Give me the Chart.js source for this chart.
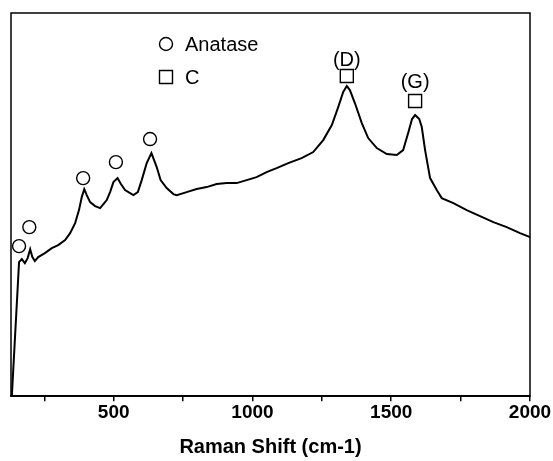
<!DOCTYPE html>
<html>
<head>
<meta charset="utf-8">
<script src="https://cdn.jsdelivr.net/npm/chart.js@4.4.0/dist/chart.umd.min.js"></script>
<style>
  body { margin: 0; background: #fff; }
  #wrap { width: 553px; height: 461px; position: relative; }
</style>
</head>
<body>
<div id="wrap"><canvas id="grafico"></canvas></div>
<script>
// spectrum: Raman shift (cm-1) and intensity (a.u.)
const shift = [133, 159, 169, 180, 190, 199, 207, 216, 228, 252, 277, 300, 325, 343, 361, 375, 385, 394, 403, 415,
  433, 451, 463, 475, 487, 499, 514, 526, 541, 559, 571, 587, 601, 619, 636, 655, 669, 691, 715, 727,
  763, 799, 835, 871, 907, 943, 979, 1015, 1051, 1087, 1129, 1177, 1219, 1255, 1286, 1309, 1327, 1340, 1351, 1369,
  1394, 1417, 1448, 1484, 1520, 1543, 1561, 1575, 1586, 1601, 1610, 1622, 1640, 1664, 1682, 1724, 1772, 1820, 1868, 1916,
  1964, 2000];
const intensity = [0, 134, 137, 133, 138, 147, 139, 135, 139, 143, 148, 151, 156, 163, 173, 186, 199, 207, 201, 194,
  190, 188, 192, 196, 204, 214, 218, 212, 206, 203, 201, 204, 216, 233, 243, 229, 216, 208, 202, 201,
  204, 207, 209, 212, 213, 213, 216, 219, 224, 228, 233, 238, 244, 256, 271, 289, 304, 310, 306, 293,
  273, 258, 248, 242, 241, 246, 263, 277, 281, 277, 269, 246, 218, 206, 198, 193, 186, 180, 174, 169,
  163, 159];

// peak markers
const anataseX = [159, 196, 390, 508, 631];
const anataseY = [150, 169, 218, 234, 257];
const carbonX = [1340, 1586];
const carbonY = [320, 295];
const carbonLabels = ['(D)', '(G)'];
const carbonLabelY = [336, 314];

// eixo x
const xTicks = [250, 500, 750, 1000, 1250, 1500, 1750, 2000];
const xMin = 130, xMax = 2000;
const yMin = 0, yMax = 383;

const legendItems = [
  { label: 'Anatase', style: 'circle' },
  { label: 'C', style: 'rect' }
];

const serie = shift.map((x, i) => ({ x: x, y: intensity[i] }));
const circulos = anataseX.map((x, i) => ({ x: x, y: anataseY[i] }));
const quadrados = carbonX.map((x, i) => ({ x: x, y: carbonY[i] }));

const fonte = '"Liberation Sans", Arial, sans-serif';

const extras = {
  id: 'extras',
  afterDatasetsDraw(chart) {
    const { ctx, chartArea, scales } = chart;
    ctx.save();
    // moldura
    ctx.strokeStyle = '#000';
    ctx.lineWidth = 1.5;
    ctx.strokeRect(chartArea.left, chartArea.top, chartArea.right - chartArea.left, chartArea.bottom - chartArea.top);

    // rótulos D e G
    ctx.fillStyle = '#000';
    ctx.font = '20px ' + fonte;
    ctx.textAlign = 'center';
    ctx.textBaseline = 'middle';
    carbonLabels.forEach((t, i) => {
      ctx.fillText(t, scales.x.getPixelForValue(carbonX[i]), scales.y.getPixelForValue(carbonLabelY[i]));
    });

    // legenda dentro do gráfico
    const lx = chartArea.left + 155, ly = chartArea.top + 31;
    ctx.textAlign = 'left';
    ctx.lineWidth = 1.4;
    legendItems.forEach((item, i) => {
      const y = ly + i * 33;
      ctx.beginPath();
      if (item.style === 'circle') ctx.arc(lx, y, 6.5, 0, Math.PI * 2);
      else ctx.rect(lx - 6.5, y - 6.5, 13, 13);
      ctx.stroke();
      ctx.fillText(item.label, lx + 19, y + 1);
    });
    ctx.restore();
  }
};

new Chart(document.getElementById('grafico'), {
  type: 'line',
  data: {
    datasets: [
      { data: serie, borderColor: '#000', borderWidth: 2, pointRadius: 0, tension: 0, fill: false },
      { type: 'scatter', data: circulos, pointStyle: 'circle', pointRadius: 6.5, pointBorderWidth: 1.4,
        pointBorderColor: '#000', pointBackgroundColor: 'rgba(0,0,0,0)' },
      { type: 'scatter', data: quadrados, pointStyle: 'rect', pointRadius: 9.2, pointBorderWidth: 1.4,
        pointBorderColor: '#000', pointBackgroundColor: 'rgba(0,0,0,0)' }
    ]
  },
  options: {
    responsive: true,
    maintainAspectRatio: false,
    animation: false,
    layout: { padding: { left: 11, right: 23, top: 13, bottom: 0 } },
    plugins: { legend: { display: false }, tooltip: { enabled: false } },
    scales: {
      x: {
        type: 'linear',
        min: xMin,
        max: xMax,
        afterBuildTicks: (axis) => { axis.ticks = xTicks.map(v => ({ value: v })); },
        grid: { drawOnChartArea: false, tickLength: 5, color: '#000', lineWidth: 1.5 },
        border: { color: '#000', width: 1.5 },
        ticks: {
          autoSkip: false,
          maxRotation: 0,
          padding: 0,
          color: '#000',
          font: { family: fonte, size: 19, weight: 'bold' },
          callback: (v) => (v % 500 === 0 ? String(v) : '')
        },
        title: {
          display: true,
          text: 'Raman Shift (cm-1)',
          color: '#000',
          padding: { top: 11, bottom: 2 },
          font: { family: fonte, size: 20, weight: 'bold' }
        }
      },
      y: { display: false, min: yMin, max: yMax }
    }
  },
  plugins: [extras]
});
</script>
</body>
</html>
